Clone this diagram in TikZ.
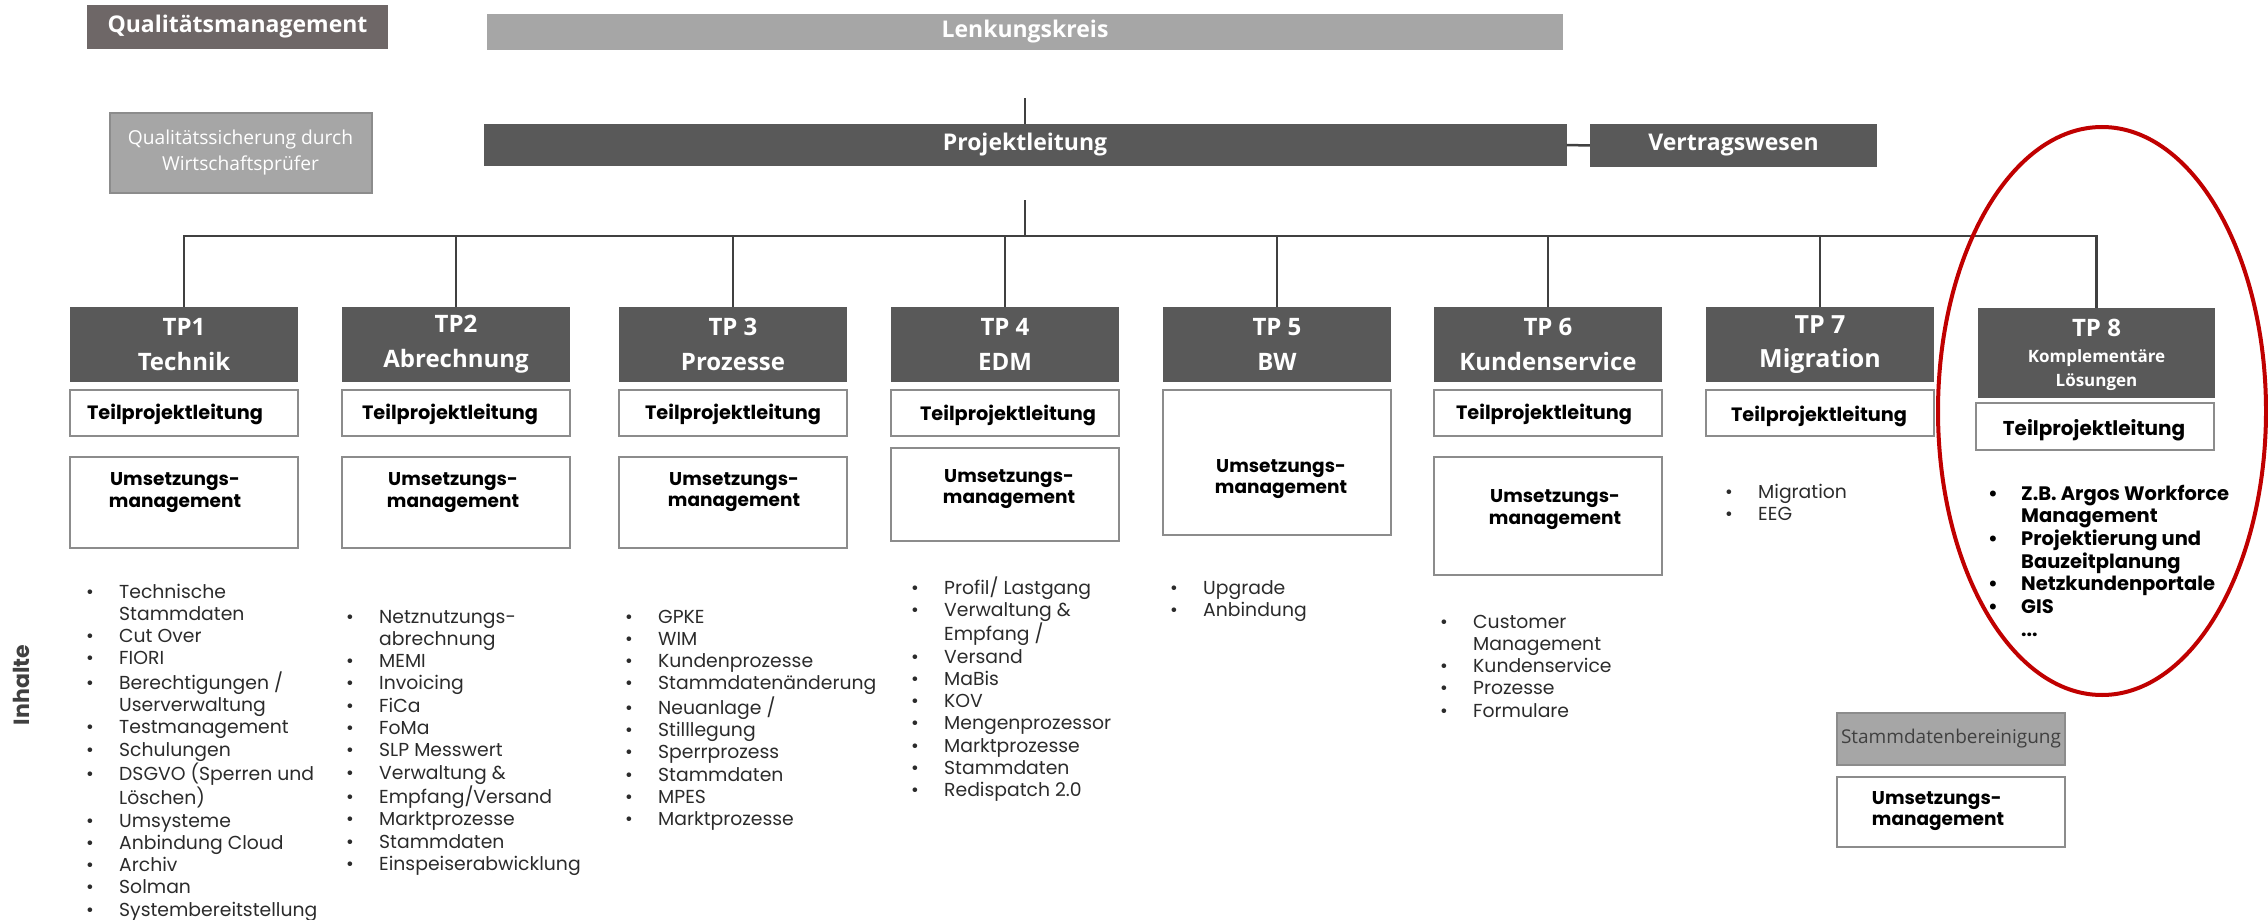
\documentclass[tikz,border=0pt]{standalone}
\usepackage{fontspec}
\setmainfont{Poppins}
\newfontfamily\hdr{Open Sans}
\usetikzlibrary{shapes.geometric}
\definecolor{dark}{HTML}{595959}
\definecolor{light}{HTML}{A6A6A6}
\definecolor{qmcol}{HTML}{6E6767}
\definecolor{boxline}{HTML}{8C8C8C}
\definecolor{redring}{HTML}{C00000}
\definecolor{txt}{HTML}{2B2B2B}
\definecolor{conncol}{HTML}{404040}
\newcommand{\bl}{\makebox[33pt][l]{\textbullet}}
\newcommand{\cl}{\hspace*{33pt}}
\begin{document}
\begin{tikzpicture}[x=1pt,y=-1pt,
  hbar/.style={fill=dark, text=white, inner sep=0pt, font=\hdr\bfseries\fontsize{23}{28}\selectfont},
  tphead/.style={fill=dark, text=white, inner sep=0pt, minimum width=228pt, minimum height=75pt, align=center, font=\hdr\bfseries\fontsize{24}{35}\selectfont},
  wbox/.style={draw=boxline, line width=2.5pt, fill=white, inner sep=0pt, minimum width=228pt},
  lbl/.style={font=\bfseries\fontsize{18.5}{21.5}\selectfont, align=center, inner sep=0pt, text=black},
  tpl/.style={lbl, font=\bfseries\fontsize{19.3}{21.5}\selectfont},
  items/.style={anchor=base west, inner sep=0pt, font=\fontsize{18.8}{22.3}\selectfont, text=txt},
  conn/.style={draw=conncol, line width=2.5pt}
]
\useasboundingbox (0,0) rectangle (2268,920);

% top
\node[hbar, fill=qmcol, minimum width=301pt, minimum height=44pt] (qm) at (237.5,27) {Qualitätsmanagement};
\node[fill=light, draw=boxline, line width=2pt, text=white, inner sep=0pt, minimum width=262pt, minimum height=80pt, align=center, font=\hdr\fontsize{19.2}{26}\selectfont] (qs) at (240.5,153) {Qualitätssicherung durch\\Wirtschaftsprüfer};
\node[hbar, fill=light, minimum width=1076pt, minimum height=36pt] (lk) at (1025,32) {Lenkungskreis};
\node[hbar, minimum width=1083pt, minimum height=42pt] (pl) at (1025,145) {Projektleitung};
\node[hbar, minimum width=287pt, minimum height=43pt] (vw) at (1733.5,145.5) {Vertragswesen};

% connectors top
\coordinate (bus) at (1025,236);
\draw[conn, shorten <=48pt] (lk.south) -- (pl.north);
\draw[conn, shorten <=34pt] (pl.south) -- (bus);
\draw[conn] (pl.east) -- (vw.west);

% TP headers
\node[tphead] (tp1) at (184,344.5) {TP1\\Technik};
\node[tphead] (tp2) at (456,344.5) {TP2\\Abrechnung};
\node[tphead] (tp3) at (733,344.5) {TP 3\\Prozesse};
\node[tphead] (tp4) at (1005,344.5) {TP 4\\EDM};
\node[tphead] (tp5) at (1277,344.5) {TP 5\\BW};
\node[tphead] (tp6) at (1548,344.5) {TP 6\\Kundenservice};
\node[tphead, font=\hdr\bfseries\fontsize{25}{34}\selectfont] (tp7) at (1820,344.5) {TP 7\\Migration};
\node[tphead, minimum width=237pt, minimum height=90pt] (tp8) at (2096.5,353) {};
\node[text=white, inner sep=0pt, font=\hdr\bfseries\fontsize{24}{30}\selectfont] (tp8a) at (2096.5,328) {TP 8};
\node[text=white, inner sep=0pt, align=center, font=\hdr\bfseries\fontsize{17}{24}\selectfont] (tp8b) at (2096.5,370) {Komplementäre\\Lösungen};

\foreach \n in {tp1,tp2,tp3,tp4,tp5,tp6,tp7,tp8}
  \draw[conn] (bus) -| (\n.north);

% white boxes
\node[wbox, minimum height=46pt] (tl1) at (184,413) {};
\node[wbox, minimum height=46pt] (tl2) at (456,413) {};
\node[wbox, minimum height=46pt] (tl3) at (733,413) {};
\node[wbox, minimum height=46pt] (tl4) at (1005,413) {};
\node[wbox, minimum height=46pt] (tl6) at (1548,413) {};
\node[wbox, minimum height=46pt] (tl7) at (1820,413) {};
\node[wbox, minimum width=238pt, minimum height=47pt] (tl8) at (2095,426.5) {};

\node[wbox, minimum height=91pt] (um1) at (184,502.5) {};
\node[wbox, minimum height=91pt] (um2) at (456,502.5) {};
\node[wbox, minimum height=91pt] (um3) at (733,502.5) {};
\node[wbox, minimum height=93pt] (um4) at (1005,494.5) {};
\node[wbox, minimum height=145pt] (um5) at (1277,462.5) {};
\node[wbox, minimum height=118pt] (um6) at (1548,516) {};

\node[wbox, fill=light, minimum height=52pt, text=conncol, font=\hdr\fontsize{19}{22}\selectfont] (sb) at (1951,739) {Stammdatenbereinigung};
\node[wbox, minimum height=70pt] (um8) at (1951,812) {};

% labels
\node[tpl] (t1) at (175,414) {Teilprojektleitung};
\node[tpl] (t2) at (450,414) {Teilprojektleitung};
\node[tpl] (t3) at (733,414) {Teilprojektleitung};
\node[tpl] (t4) at (1008,415) {Teilprojektleitung};
\node[tpl] (t6) at (1544,414) {Teilprojektleitung};
\node[tpl] (t7) at (1819,416) {Teilprojektleitung};
\node[tpl, font=\bfseries\fontsize{20}{21.5}\selectfont] (t8) at (2094,430) {Teilprojektleitung};

\node[lbl] (u1) at (175,492.5) {Umsetzungs-\\management};
\node[lbl] (u2) at (453,492.5) {Umsetzungs-\\management};
\node[lbl] (u3) at (734,492) {Umsetzungs-\\management};
\node[lbl] (u4) at (1009,489) {Umsetzungs-\\management};
\node[lbl] (u5) at (1281,479) {Umsetzungs-\\management};
\node[lbl] (u6) at (1555,509.5) {Umsetzungs-\\management};
\node[lbl, align=left] (u8) at (1938,811) {Umsetzungs-\\management};

% Inhalte
\node[rotate=90, inner sep=0pt, text=conncol, font=\bfseries\fontsize{22}{22}\selectfont] (inh) at (21,685) {Inhalte};

% lists
\node[items] (l1) at (86,598) {\begin{tabular}[t]{@{}l@{}}
\bl Technische\\ \cl Stammdaten\\ \bl Cut Over\\ \bl FIORI\\ \bl Berechtigungen /\\ \cl Userverwaltung\\ \bl Testmanagement\\ \bl Schulungen\\ \bl DSGVO (Sperren und\\ \cl Löschen)\\ \bl Umsysteme\\ \bl Anbindung Cloud\\ \bl Archiv\\ \bl Solman\\ \bl Systembereitstellung
\end{tabular}};
\node[items] (l2) at (346,623) {\begin{tabular}[t]{@{}l@{}}
\bl Netznutzungs-\\ \cl abrechnung\\ \bl MEMI\\ \bl Invoicing\\ \bl FiCa\\ \bl FoMa\\ \bl SLP Messwert\\ \bl Verwaltung \&\\ \bl Empfang/Versand\\ \bl Marktprozesse\\ \bl Stammdaten\\ \bl Einspeiserabwicklung
\end{tabular}};
\node[items] (l3) at (625,623) {\begin{tabular}[t]{@{}l@{}}
\bl GPKE\\ \bl WIM\\ \bl Kundenprozesse\\ \bl Stammdatenänderung\\ \bl Neuanlage /\\ \bl Stilllegung\\ \bl Sperrprozess\\ \bl Stammdaten\\ \bl MPES\\ \bl Marktprozesse
\end{tabular}};
\node[items] (l4) at (911,594) {\begin{tabular}[t]{@{}l@{}}
\bl Profil/ Lastgang\\ \bl Verwaltung \&\\ \cl Empfang /\\ \bl Versand\\ \bl MaBis\\ \bl KOV\\ \bl Mengenprozessor\\ \bl Marktprozesse\\ \bl Stammdaten\\ \bl Redispatch 2.0
\end{tabular}};
\node[items] (l5) at (1170,594) {\begin{tabular}[t]{@{}l@{}}
\bl Upgrade\\ \bl Anbindung
\end{tabular}};
\node[items] (l6) at (1440,628) {\begin{tabular}[t]{@{}l@{}}
\bl Customer\\ \cl Management\\ \bl Kundenservice\\ \bl Prozesse\\ \bl Formulare
\end{tabular}};
\node[items] (l7) at (1725,498) {\begin{tabular}[t]{@{}l@{}}
\bl Migration\\ \bl EEG
\end{tabular}};
\node[items, text=black, font=\bfseries\fontsize{19.5}{22.7}\selectfont] (l8) at (1988,500) {\begin{tabular}[t]{@{}l@{}}
\bl Z.B. Argos Workforce\\ \cl Management\\ \bl Projektierung und\\ \cl Bauzeitplanung\\ \bl Netzkundenportale\\ \bl GIS\\ \cl ...
\end{tabular}};

% red ring
\node[ellipse, draw=redring, line width=4pt, minimum width=328pt, minimum height=568pt, inner sep=0pt] (ring) at (2102,411) {};
\end{tikzpicture}
\end{document}
